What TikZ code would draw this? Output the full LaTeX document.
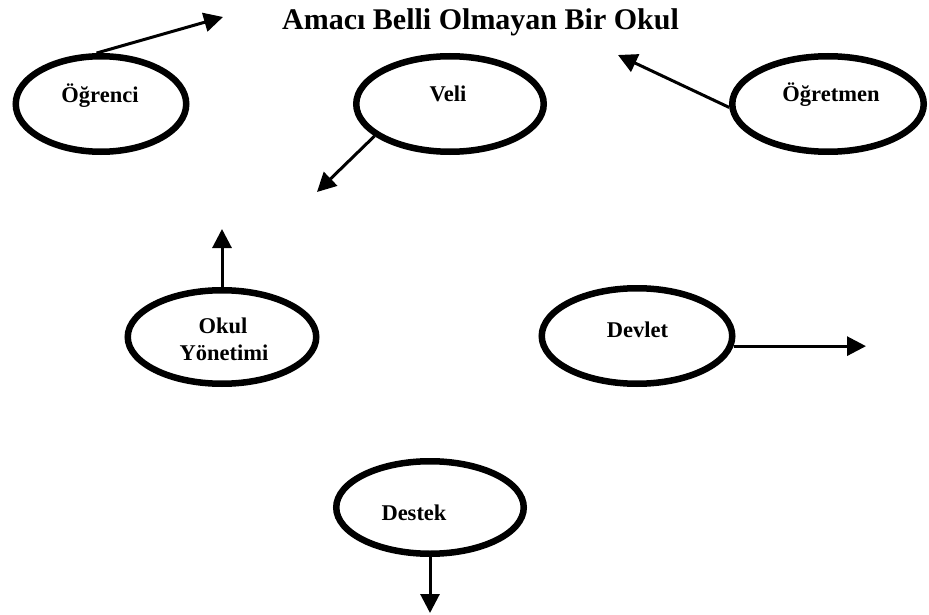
\documentclass[tikz,border=0pt]{standalone}
\usepackage{fontspec}
\setmainfont{Liberation Serif}
\usetikzlibrary{shapes.geometric,arrows.meta}
\begin{document}
\begin{tikzpicture}[x=1pt,y=-1pt,
  oval/.style={ellipse,draw,line width=6.5pt,inner sep=0pt},
  lbl/.style={anchor=base,inner sep=0pt,font=\fontsize{22.5}{27}\selectfont\bfseries},
  conn/.style={line width=3pt,-{Triangle[length=19pt,width=19pt]}}]
\useasboundingbox (0,0) rectangle (929,615);
% title
\node[anchor=base,inner sep=0pt,font=\fontsize{30}{36}\selectfont\bfseries] (title) at (480.5,30) {Amacı Belli Olmayan Bir Okul};
% ellipses
\node[oval,minimum width=170.5pt,minimum height=95.5pt] (ogr) at (101,104) {};
\node[oval,minimum width=187.5pt,minimum height=95.5pt] (veli) at (450,104) {};
\node[oval,minimum width=191.5pt,minimum height=95.5pt] (ogt) at (828,104) {};
\node[oval,minimum width=188.5pt,minimum height=93.5pt] (okul) at (222,337) {};
\node[oval,minimum width=190.5pt,minimum height=95.5pt] (dev) at (637,336) {};
\node[oval,minimum width=187.5pt,minimum height=92.5pt] (des) at (430,507.5) {};
% labels
\node[lbl] (ogrt) at (100,103) {Öğrenci};
\node[lbl] (velit) at (448,102) {Veli};
\node[lbl] (ogtt) at (831,102) {Öğretmen};
\node[lbl] (okult1) at (223,333) {Okul};
\node[lbl] (okult2) at (224,360) {Yönetimi};
\node[lbl] (devt) at (637.5,337) {Devlet};
\node[lbl] (dest) at (414,520) {Destek};
% free ends
\coordinate (e1) at (223,17);
\coordinate (e2) at (317,192);
\coordinate (e3) at (618,55);
\coordinate (e4) at (222,229);
\coordinate (e5) at (866,345);
\coordinate (e6) at (430,613);
% connectors
\draw[conn] (ogr.95) -- (e1);
\draw[conn] (veli.203) -- (e2);
\draw[conn] (ogt.182) -- (e3);
\draw[conn] (okul.north) -- (e4);
\draw[conn] (dev.-6) -- (dev.-6 -| e5);
\draw[conn] (des.south) -- (e6);
\end{tikzpicture}
\end{document}
